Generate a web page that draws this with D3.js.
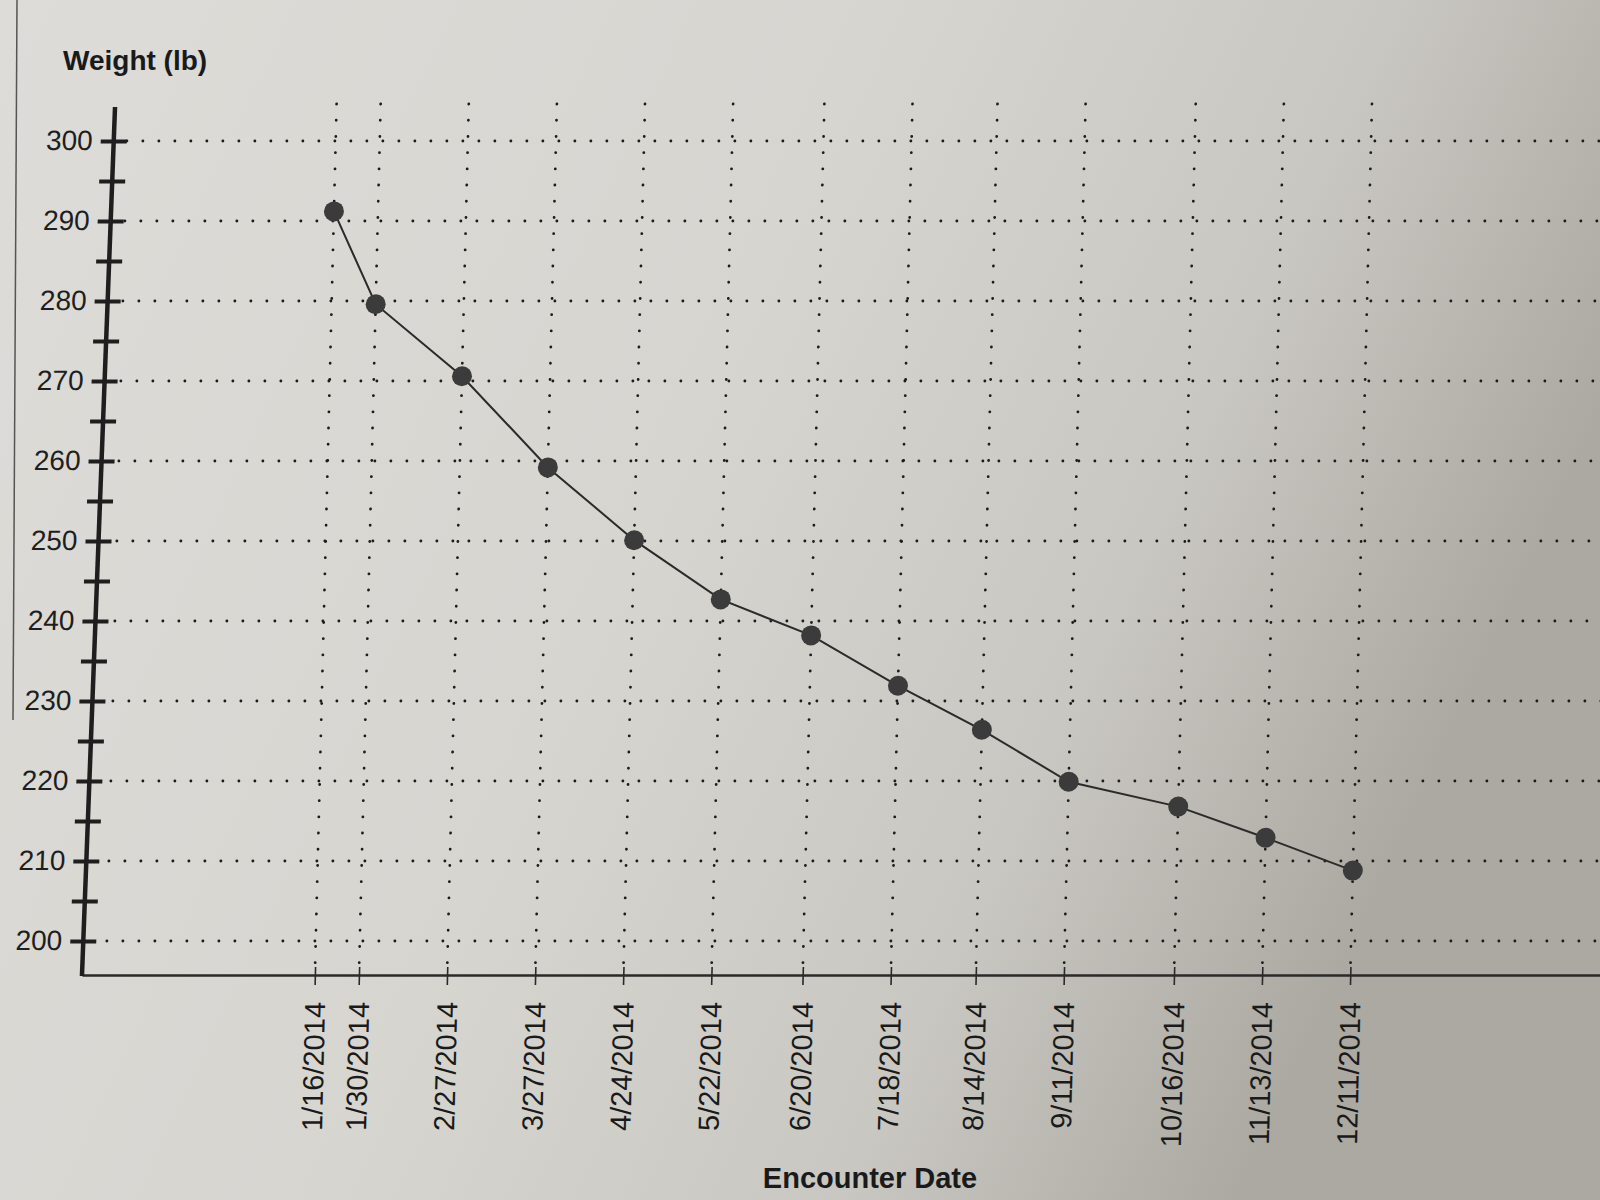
<!DOCTYPE html>
<html>
<head>
<meta charset="utf-8">
<script src="https://cdn.jsdelivr.net/npm/d3@7"></script>
<style>
body { margin: 0; background: #d6d5d0; }
svg { display: block; font-family: "Liberation Sans", Arial, sans-serif; }
</style>
</head>
<body>
<svg id="grafico" width="1600" height="1200"></svg>
<script>
// data
var dates = ["1/16/2014", "1/30/2014", "2/27/2014", "3/27/2014", "4/24/2014", "5/22/2014",
  "6/20/2014", "7/18/2014", "8/14/2014", "9/11/2014", "10/16/2014", "11/13/2014", "12/11/2014"];
var weights = [291.2, 279.6, 270.6, 259.2, 250.1, 242.7, 238.2, 231.9, 226.4, 219.9, 216.8, 212.9, 208.8];
var yLabels = [200, 210, 220, 230, 240, 250, 260, 270, 280, 290, 300];
var yMinor = [205, 215, 225, 235, 245, 255, 265, 275, 285, 295];
var xDomain = ["11/3/2013", "3/1/2015"];

var svg = d3.select("#grafico"),
    width = +svg.attr("width"),
    height = +svg.attr("height"),
    baseY = 975,
    axisX = 82;

var parseDate = d3.timeParse("%m/%d/%Y");
var points = dates.map(function(d, i) { return { date: parseDate(d), label: d, w: weights[i] }; });

var x = d3.scaleTime()
    .domain(xDomain.map(parseDate))
    .range([axisX, 1602]);
var y = d3.scaleLinear()
    .domain([200, 300])
    .range([941, 141]);

// paper
var defs = svg.append("defs");
var grad = defs.append("linearGradient").attr("id", "paper")
    .attr("x1", "0").attr("y1", "0").attr("x2", "1").attr("y2", "0.35");
grad.append("stop").attr("offset", "0").attr("stop-color", "#dddcd8");
grad.append("stop").attr("offset", "0.5").attr("stop-color", "#d6d5d0");
grad.append("stop").attr("offset", "0.78").attr("stop-color", "#c9c7c1");
grad.append("stop").attr("offset", "1").attr("stop-color", "#aba9a2");
svg.append("rect").attr("width", width).attr("height", height).attr("fill", "url(#paper)");

svg.append("line")
    .attr("x1", 17).attr("x2", 13).attr("y1", 0).attr("y2", 720)
    .attr("stroke", "#555").attr("stroke-width", 1.5);

// photo of the sheet is slightly sheared
var g = svg.append("g")
    .attr("transform", "translate(0," + baseY + ") skewX(-1.43) translate(0," + (-baseY) + ")");

// dotted grid
g.selectAll(".hgrid")
  .data(yLabels)
  .enter().append("line")
    .attr("class", "hgrid")
    .attr("x1", axisX + 24).attr("x2", width + 40)
    .attr("y1", function(d) { return y(d); })
    .attr("y2", function(d) { return y(d); })
    .attr("stroke", "#1c1c1c").attr("stroke-width", 2.8)
    .attr("stroke-linecap", "round").attr("stroke-dasharray", "0.1 15.9");

g.selectAll(".vgrid")
  .data(points)
  .enter().append("line")
    .attr("class", "vgrid")
    .attr("x1", function(d) { return x(d.date); })
    .attr("x2", function(d) { return x(d.date); })
    .attr("y1", 104).attr("y2", baseY - 6)
    .attr("stroke", "#1c1c1c").attr("stroke-width", 2.8)
    .attr("stroke-linecap", "round").attr("stroke-dasharray", "0.1 16.1");

// x axis
var xAxis = g.append("g")
    .attr("transform", "translate(0," + baseY + ")")
    .call(d3.axisBottom(x)
      .tickValues(points.map(function(d) { return d.date; }))
      .tickFormat(function(d, i) { return dates[i]; })
      .tickSizeInner(10)
      .tickSizeOuter(0));
xAxis.select(".domain").attr("stroke", "#2a2a2a").attr("stroke-width", 2.5);
xAxis.selectAll(".tick line").attr("y1", -8).attr("stroke", "#2a2a2a").attr("stroke-width", 1.6);
xAxis.selectAll(".tick text")
    .attr("transform", "rotate(-90)")
    .attr("x", -27).attr("y", 0).attr("dy", "0.36em")
    .attr("text-anchor", "end")
    .attr("font-size", 29)
    .attr("font-family", "Liberation Sans, Arial, sans-serif")
    .attr("fill", "#1a1a1a");

// y axis (leans a little more than the grid in the photo)
var yAxis = g.append("g")
    .attr("transform", "translate(" + axisX + "," + baseY + ") skewX(-0.75) translate(0," + (-baseY) + ")")
    .call(d3.axisLeft(y)
      .tickValues(yLabels.concat(yMinor))
      .tickFormat(function(d) { return d % 10 === 0 ? d : ""; })
      .tickSizeInner(13)
      .tickSizeOuter(0)
      .tickPadding(8));
yAxis.select(".domain").remove();
yAxis.selectAll(".tick line").attr("x1", 13).attr("stroke", "#1e1e1e").attr("stroke-width", 4);
yAxis.selectAll(".tick text")
    .attr("font-size", 28)
    .attr("font-family", "Liberation Sans, Arial, sans-serif")
    .attr("fill", "#1e1e1e");
yAxis.append("line")
    .attr("x1", 0).attr("x2", 0).attr("y1", 107).attr("y2", baseY + 1)
    .attr("stroke", "#1e1e1e").attr("stroke-width", 4.5);

// series
var line = d3.line()
    .x(function(d) { return x(d.date); })
    .y(function(d) { return y(d.w); });

g.append("path")
    .datum(points)
    .attr("d", line)
    .attr("fill", "none")
    .attr("stroke", "#2b2b2b")
    .attr("stroke-width", 2);

g.selectAll(".dot")
  .data(points)
  .enter().append("circle")
    .attr("class", "dot")
    .attr("cx", function(d) { return x(d.date); })
    .attr("cy", function(d) { return y(d.w); })
    .attr("r", 10)
    .attr("fill", "#3b3b3b");

// titles
svg.append("text")
    .attr("x", 63).attr("y", 70)
    .attr("font-size", 28).attr("font-weight", "bold")
    .attr("fill", "#1a1a1a")
    .text("Weight (lb)");

svg.append("text")
    .attr("x", 870).attr("y", 1188)
    .attr("text-anchor", "middle")
    .attr("font-size", 29).attr("font-weight", "bold")
    .attr("fill", "#1a1a1a")
    .text("Encounter Date");
</script>
</body>
</html>
